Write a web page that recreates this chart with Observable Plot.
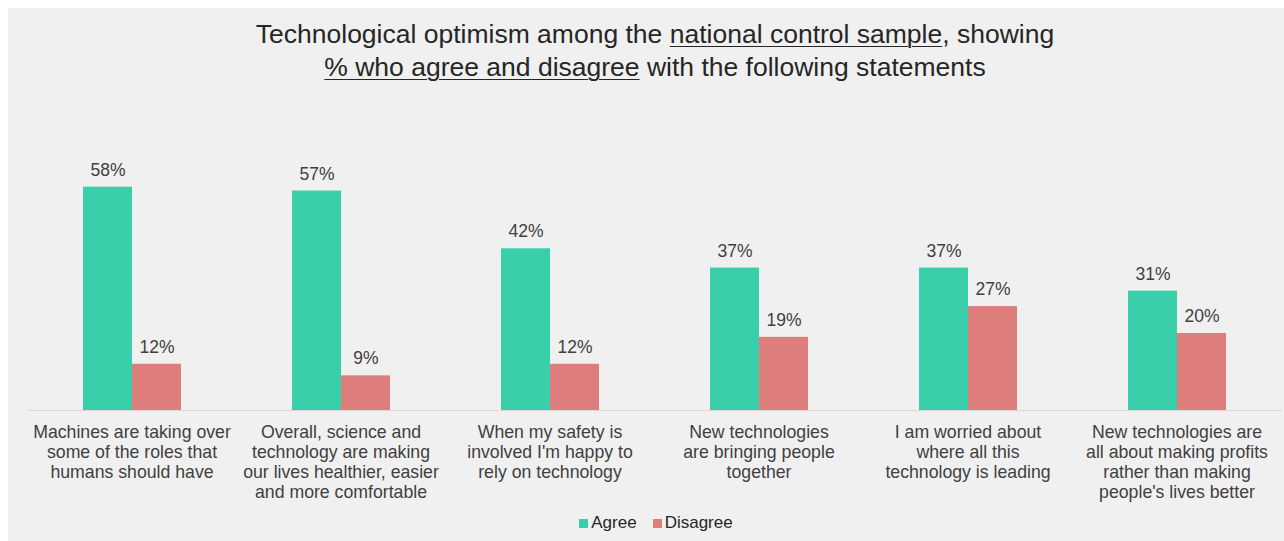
<!DOCTYPE html>
<html>
<head>
<meta charset="utf-8">
<script src="https://cdn.jsdelivr.net/npm/d3@7"></script>
<script src="https://cdn.jsdelivr.net/npm/@observablehq/plot@0.6"></script>
<style>
  html, body { margin: 0; padding: 0; background: #ffffff; }
  body { width: 1284px; height: 541px; position: relative; overflow: hidden; font-family: "Liberation Sans", Arial, sans-serif; }
  #panel { position: absolute; left: 8px; top: 8px; right: 0; bottom: 0; background: #f0f0f0; }
  #title { position: absolute; left: 0; width: 1310px; top: 18px; text-align: center; font-size: 26.5px; line-height: 33px; color: #262626; }
  #title u { text-decoration-thickness: 1px; text-underline-offset: 3px; }
  #chart { position: absolute; left: 0; top: 0; }
  #legend { position: absolute; left: 0; width: 1312px; top: 513px; text-align: center; font-size: 17px; color: #262626; }
  #legend span.item { display: inline-block; margin: 0 8px; }
  #legend span.sw { display: inline-block; width: 9px; height: 9px; margin-right: 3px; vertical-align: 0px; }
</style>
</head>
<body>
<div id="panel"></div>
<div id="title">Technological optimism among the <u>national control sample</u>, showing<br><u>% who agree and disagree</u> with the following statements</div>
<div id="chart"></div>
<div id="legend"></div>
<script>
const categories = [
  "Machines are taking over\nsome of the roles that\nhumans should have",
  "Overall, science and\ntechnology are making\nour lives healthier, easier\nand more comfortable",
  "When my safety is\ninvolved I'm happy to\nrely on technology",
  "New technologies\nare bringing people\ntogether",
  "I am worried about\nwhere all this\ntechnology is leading",
  "New technologies are\nall about making profits\nrather than making\npeople's lives better"
];
const series = ["Agree", "Disagree"];
const agree = [58, 57, 42, 37, 37, 31];
const disagree = [12, 9, 12, 19, 27, 20];
const colors = ["#38cfaa", "#de7e7c"];

const data = [];
categories.forEach((c, i) => {
  data.push({category: c, series: "Agree", value: agree[i]});
  data.push({category: c, series: "Disagree", value: disagree[i]});
});

const chart = Plot.plot({
  width: 1284,
  height: 541,
  marginLeft: 25,
  marginRight: 2,
  marginTop: 179,
  marginBottom: 131,
  style: {background: "transparent", fontFamily: "'Liberation Sans', Arial, sans-serif", color: "#404040"},
  fx: {domain: categories, padding: 0},
  x: {domain: series, paddingInner: 0, paddingOuter: 1.095, axis: null},
  y: {domain: [0, 60], axis: null},
  color: {domain: series, range: colors},
  marks: [
    Plot.barY(data, {fx: "category", x: "series", y: "value", fill: "series"}),
    Plot.ruleY([0], {stroke: "#d9d9d9", strokeWidth: 1}),
    Plot.text(data, {fx: "category", x: "series", y: "value", text: d => d.value + "%", dy: -17, fontSize: 17.5, fill: "#404040"}),
    Plot.axisFx({anchor: "bottom", tickSize: 0, tickPadding: 13, fontSize: 17.7, lineHeight: 1.13, lineAnchor: "top", label: null, tickFormat: d => d, fill: "#404040"})
  ]
});
document.getElementById("chart").appendChild(chart);

const legend = document.getElementById("legend");
series.forEach((s, i) => {
  const item = document.createElement("span");
  item.className = "item";
  const sw = document.createElement("span");
  sw.className = "sw";
  sw.style.background = colors[i];
  item.appendChild(sw);
  item.appendChild(document.createTextNode(s));
  legend.appendChild(item);
});
</script>
</body>
</html>
